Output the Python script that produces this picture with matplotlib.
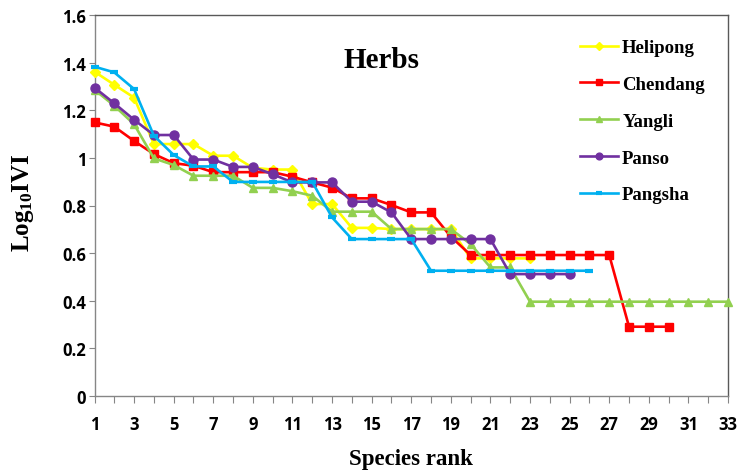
import matplotlib
matplotlib.use("Agg")
import matplotlib.pyplot as plt
from matplotlib.ticker import MultipleLocator

# Log10 IVI of herb species by rank at five sites
helipong = [1.362, 1.307, 1.253, 1.058, 1.058, 1.058, 1.009, 1.009, 0.958, 0.951,
            0.951, 0.806, 0.806, 0.706, 0.706, 0.701, 0.701, 0.701, 0.701, 0.578,
            0.578, 0.578, 0.578]
chendang = [1.149, 1.131, 1.071, 1.016, 0.978, 0.967, 0.940, 0.940, 0.940, 0.940,
            0.921, 0.897, 0.875, 0.830, 0.830, 0.802, 0.771, 0.771, 0.669, 0.592,
            0.592, 0.592, 0.592, 0.592, 0.592, 0.592, 0.592, 0.291, 0.291, 0.291]
yangli = [1.286, 1.219, 1.141, 0.998, 0.970, 0.925, 0.925, 0.925, 0.874, 0.874,
          0.860, 0.841, 0.774, 0.774, 0.774, 0.701, 0.701, 0.701, 0.701, 0.638,
          0.540, 0.540, 0.396, 0.396, 0.396, 0.396, 0.396, 0.396, 0.396, 0.396,
          0.396, 0.396, 0.396]
panso = [1.295, 1.229, 1.160, 1.096, 1.096, 0.993, 0.993, 0.962, 0.962, 0.931,
         0.897, 0.897, 0.897, 0.816, 0.816, 0.771, 0.659, 0.659, 0.659, 0.659,
         0.659, 0.512, 0.512, 0.512, 0.512]
pangsha = [1.383, 1.359, 1.289, 1.093, 1.012, 0.964, 0.964, 0.899, 0.899, 0.899,
           0.899, 0.899, 0.750, 0.659, 0.659, 0.659, 0.659, 0.526, 0.526, 0.526,
           0.526, 0.526, 0.526, 0.526, 0.526, 0.526]

site_names = ["Helipong", "Chendang", "Yangli", "Panso", "Pangsha"]
x_tick_labels = [str(v) for v in range(1, 34, 2)]
y_tick_labels = ["0", "0.2", "0.4", "0.6", "0.8", "1", "1.2", "1.4", "1.6"]

plt.rcParams["mathtext.fontset"] = "custom"
plt.rcParams["mathtext.rm"] = "Liberation Serif:bold"
plt.rcParams["mathtext.bf"] = "Liberation Serif:bold"
plt.rcParams["mathtext.it"] = "Liberation Serif:bold"

fig = plt.figure(figsize=(7.42, 4.77), dpi=100)
ax = fig.add_axes([94.5 / 742, 1 - 397 / 477, (728 - 94.5) / 742, (397 - 16) / 477])

styles = [
    dict(color="#FFFF00", marker="D", ms=5.5),
    dict(color="#FF0000", marker="s", ms=5.5),
    dict(color="#92D050", marker="^", ms=6),
    dict(color="#7030A0", marker="o", ms=6.5),
    dict(color="#00B0F0", marker="_", ms=6, mew=3),
]
series = [helipong, chendang, yangli, panso, pangsha]
for name, vals, st in zip(site_names, series, styles):
    ranks = list(range(1, len(vals) + 1))
    ax.plot(ranks, vals, label=name, lw=1.9, clip_on=False, zorder=3, **st)

ax.set_xlim(1, 33)
ax.set_ylim(0, 1.6)
ax.set_xticks(list(range(1, 34, 2)))
ax.set_xticklabels(x_tick_labels)
ax.xaxis.set_minor_locator(MultipleLocator(1))
ax.set_yticks([i * 0.2 for i in range(9)])
ax.set_yticklabels(y_tick_labels)

for lab in ax.get_xticklabels() + ax.get_yticklabels():
    lab.set_fontfamily("Open Sans")
    lab.set_fontweight("bold")
    lab.set_fontsize(12)

ax.tick_params(axis="x", which="both", direction="out", length=5, width=0.8,
               color="#868686", pad=9)
ax.tick_params(axis="y", which="major", direction="out", length=4.5, width=0.8,
               color="#868686", pad=1.5)

for side in ("left", "bottom"):
    ax.spines[side].set_color("#868686")
    ax.spines[side].set_linewidth(1.0)
for side in ("top", "right"):
    ax.spines[side].set_color("#595959")
    ax.spines[side].set_linewidth(1.0)

serif_bold = dict(family="Liberation Serif", weight="bold")
fig.text(382 / 742, 1 - 61 / 477, "Herbs", ha="center", va="center",
         fontsize=21, **serif_bold)
fig.text(411 / 742, 1 - 460 / 477, "Species rank", ha="center", va="center",
         fontsize=16.5, **serif_bold)
fig.text(23 / 742, 1 - 203 / 477, r"$\mathbf{Log_{10}IVI}$", ha="center",
         va="center", rotation=90, fontsize=18)

leg = ax.legend(loc="upper left", bbox_to_anchor=(580 / 742, 1 - 40 / 477),
                bbox_transform=fig.transFigure, frameon=False,
                prop=dict(family="Liberation Serif", weight="bold", size=13.5),
                handlelength=2.0, handletextpad=0.25, labelspacing=1.05,
                borderpad=0, borderaxespad=0, markerscale=0.75)

fig.savefig("out.png", dpi=100)
